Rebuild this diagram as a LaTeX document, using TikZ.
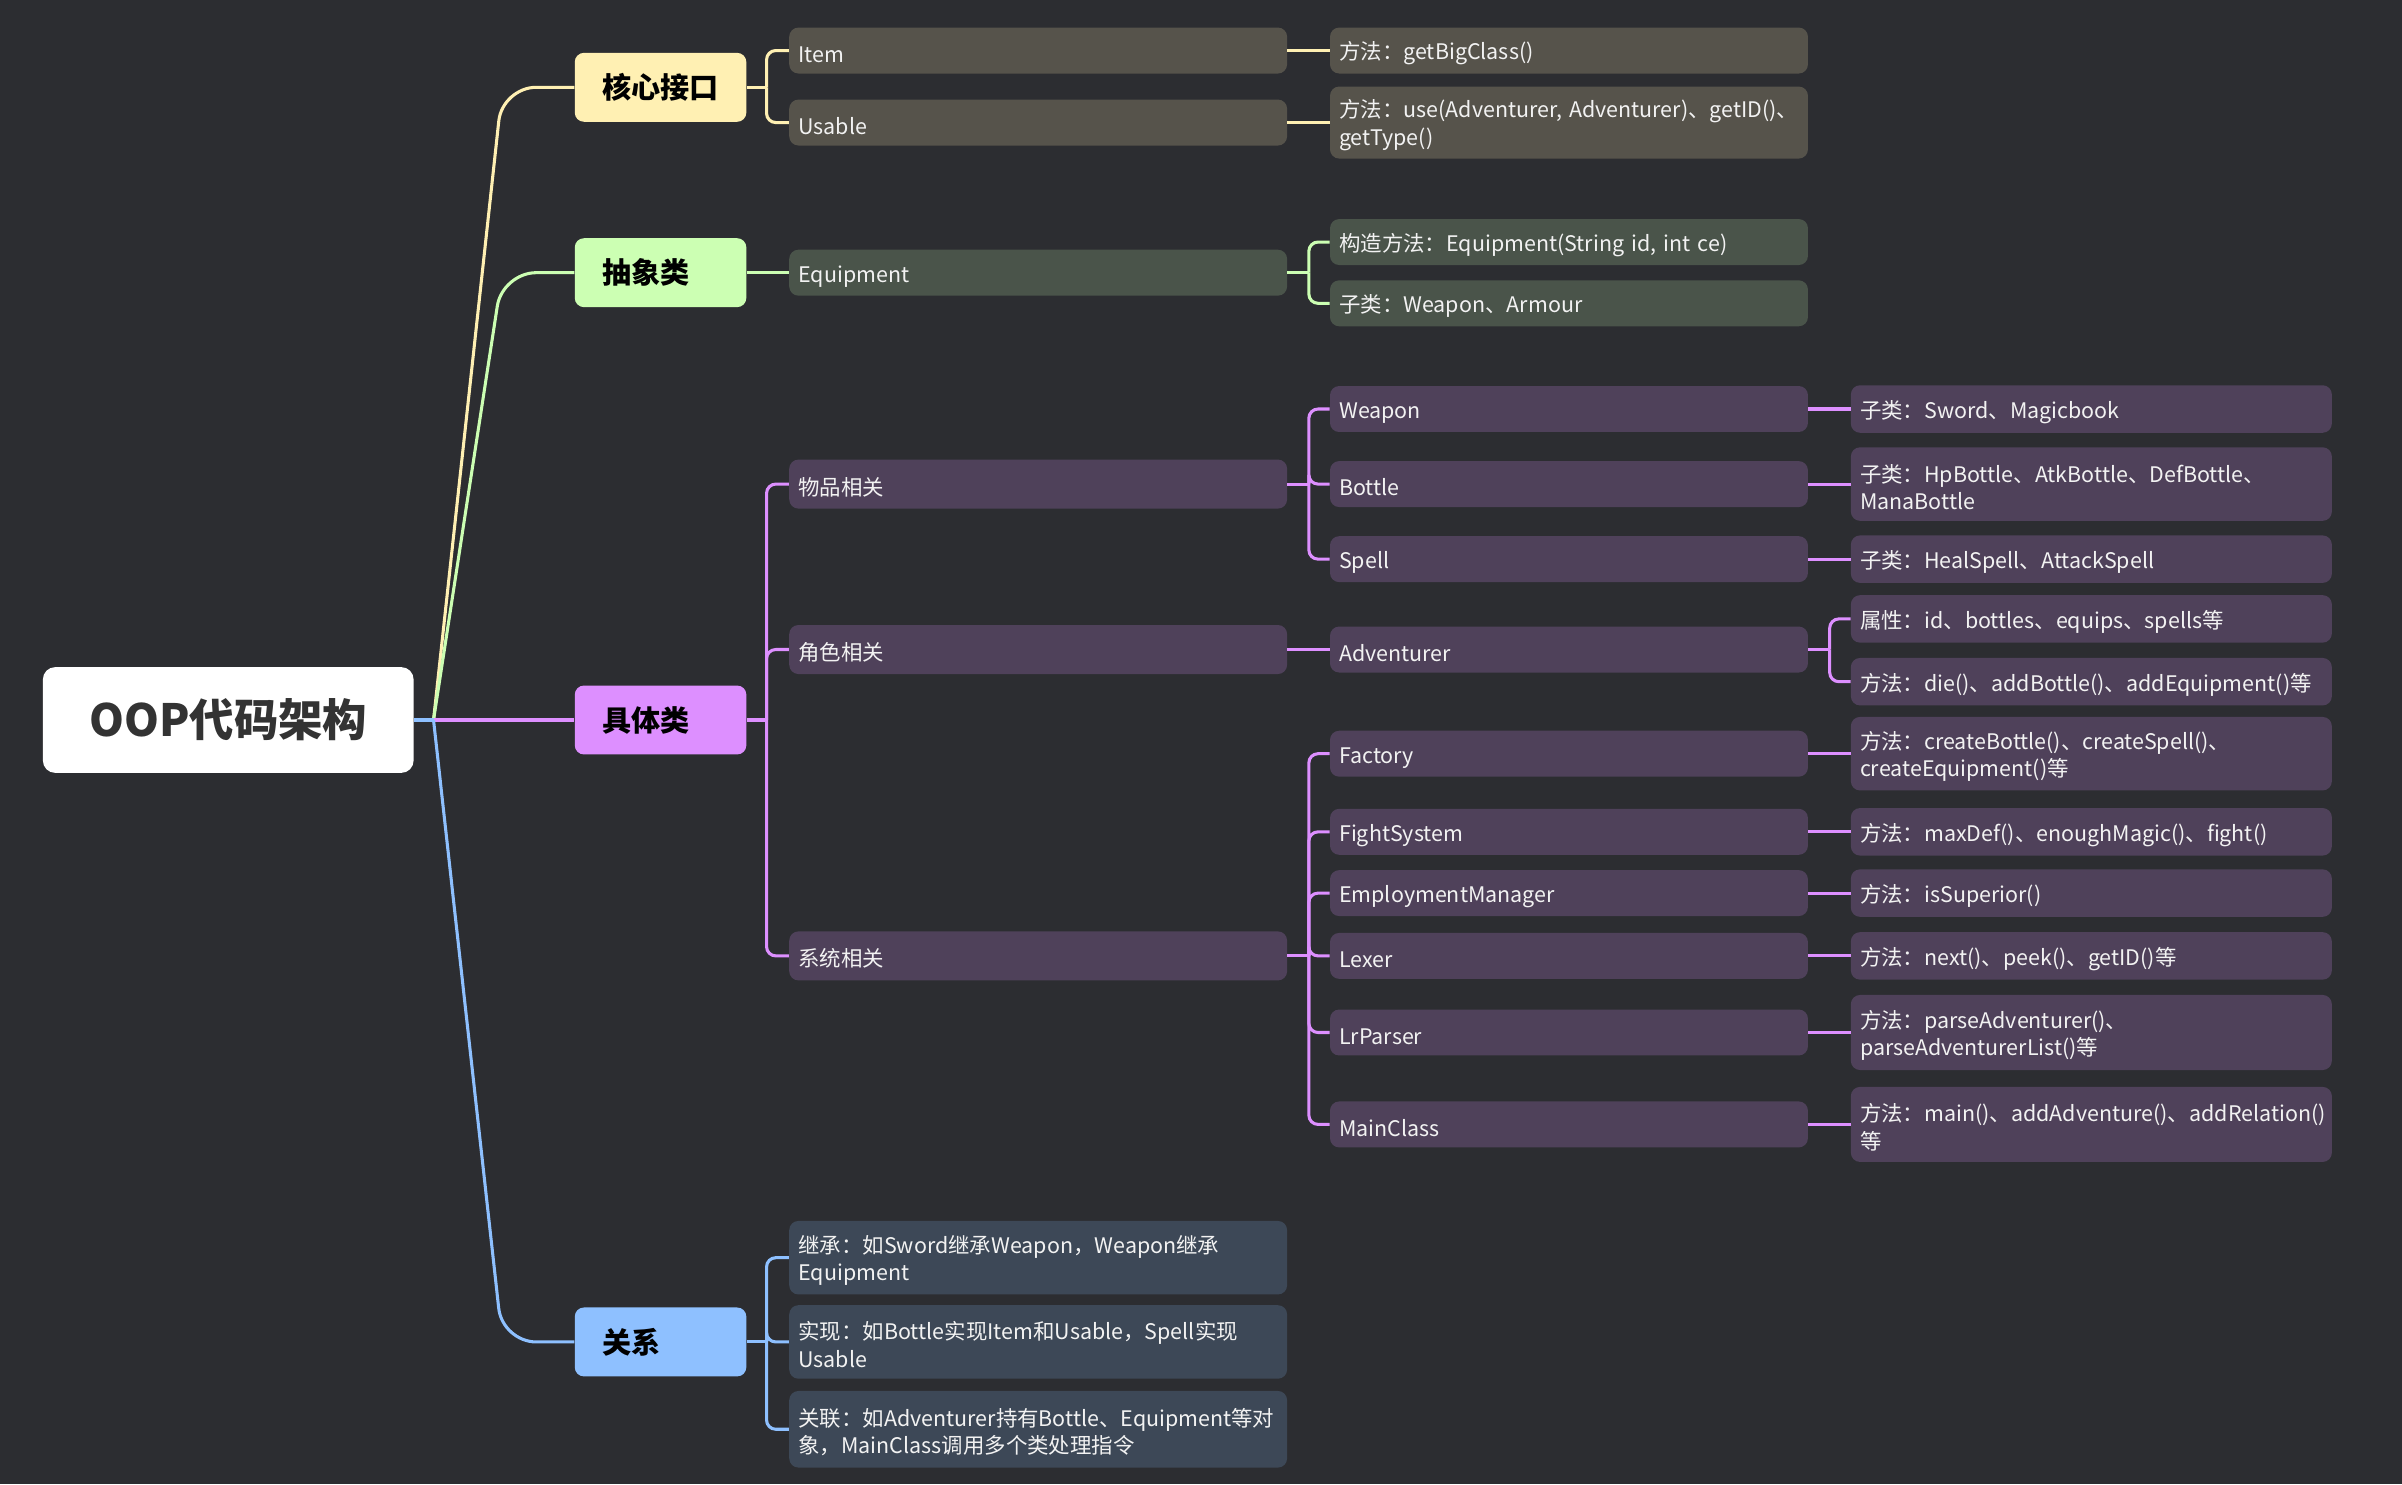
\documentclass[tikz,border=0pt]{standalone}
\usepackage{fontspec}
\setmainfont{Noto Sans CJK SC}
\definecolor{mmback}{RGB}{44,45,49}
\definecolor{mmink}{RGB}{51,51,51}
\definecolor{mmpale}{RGB}{242,242,242}
\definecolor{mmyellow}{RGB}{255,240,179}
\definecolor{mmgreen}{RGB}{204,255,179}
\definecolor{mmviolet}{RGB}{221,143,255}
\definecolor{mmblue}{RGB}{142,192,255}
\definecolor{mmyellowbox}{RGB}{86,83,75}
\definecolor{mmgreenbox}{RGB}{74,84,74}
\definecolor{mmvioletbox}{RGB}{79,65,90}
\definecolor{mmbluebox}{RGB}{61,72,87}

\begin{document}
\begin{tikzpicture}[
        x=1pt, y=-1pt,
        root/.style={fill=white, rounded corners=8pt, minimum width=242, minimum height=69, text=mmink, font=\fontsize{29}{32}\selectfont\bfseries},
        topic/.style={rounded corners=6pt, anchor=west, minimum height=45, text width=76, inner xsep=18, align=left, text=black, font=\fontsize{19}{22}\selectfont\bfseries},
        leaf/.style={rounded corners=6pt, anchor=west, minimum height=30, inner xsep=6, inner ysep=2, align=left, text=mmpale, font=\fontsize{14}{18}\selectfont, execute at begin node={\rule{0pt}{15.5pt}}},
        mid/.style={leaf, text width=313},
        sub/.style={leaf, text width=300},
        tip/.style={leaf, text width=302, minimum height=31},
        wire/.style={line width=2pt, rounded corners=6pt}
      ]
      \fill[mmback] (0,0) rectangle (1568,969);
      \useasboundingbox (0,0) rectangle (1568,969);

      \node[root] (oop) at (149,470) {OOP代码架构};
      \coordinate (hub) at (283,470);

      \node[topic, fill=mmyellow] (core) at (375,57) {核心接口};
      \node[topic, fill=mmgreen] (abstract) at (375,178) {抽象类};
      \node[topic, fill=mmviolet] (concrete) at (375,470) {具体类};
      \node[topic, fill=mmblue] (relation) at (375,876) {关系};

      \node[mid, fill=mmyellowbox] (item) at (515,33) {Item};
      \node[mid, fill=mmyellowbox] (usable) at (515,80) {Usable};
      \node[mid, fill=mmgreenbox] (equip) at (515,178) {Equipment};
      \node[mid, fill=mmvioletbox, minimum height=32] (goods) at (515,316) {物品相关};
      \node[mid, fill=mmvioletbox, minimum height=32] (role) at (515,424) {角色相关};
      \node[mid, fill=mmvioletbox, minimum height=32] (system) at (515,624) {系统相关};
      \node[mid, fill=mmbluebox, minimum height=48] (inherit) at (515,821) {继承：如Sword继承Weapon，Weapon继承\\Equipment};
      \node[mid, fill=mmbluebox, minimum height=48] (realize) at (515,876) {实现：如Bottle实现Item和Usable，Spell实现\\Usable};
      \node[mid, fill=mmbluebox, minimum height=50] (assoc) at (515,933) {关联：如Adventurer持有Bottle、Equipment等对\\象，MainClass调用多个类处理指令};

      \node[sub, fill=mmyellowbox] (getbig) at (868,33) {方法：getBigClass()};
      \node[sub, fill=mmyellowbox, minimum height=47] (usemeth) at (868,80) {方法：use(Adventurer, Adventurer)、getID()、\\getType()};
      \node[sub, fill=mmgreenbox] (ctor) at (868,158) {构造方法：Equipment(String id, int ce)};
      \node[sub, fill=mmgreenbox] (subeq) at (868,198) {子类：Weapon、Armour};
      \node[sub, fill=mmvioletbox] (weapon) at (868,267) {Weapon};
      \node[sub, fill=mmvioletbox] (bottle) at (868,316) {Bottle};
      \node[sub, fill=mmvioletbox] (spell) at (868,365) {Spell};
      \node[sub, fill=mmvioletbox] (adventurer) at (868,424) {Adventurer};
      \node[sub, fill=mmvioletbox] (factory) at (868,492) {Factory};
      \node[sub, fill=mmvioletbox] (fight) at (868,543) {FightSystem};
      \node[sub, fill=mmvioletbox] (employ) at (868,583) {EmploymentManager};
      \node[sub, fill=mmvioletbox] (lexer) at (868,624) {Lexer};
      \node[sub, fill=mmvioletbox] (parser) at (868,674) {LrParser};
      \node[sub, fill=mmvioletbox] (mainclass) at (868,734) {MainClass};

      \node[tip, fill=mmvioletbox] (sword) at (1208,267) {子类：Sword、Magicbook};
      \node[tip, fill=mmvioletbox, minimum height=48] (bottles) at (1208,316) {子类：HpBottle、AtkBottle、DefBottle、\\ManaBottle};
      \node[tip, fill=mmvioletbox] (spells) at (1208,365) {子类：HealSpell、AttackSpell};
      \node[tip, fill=mmvioletbox] (attr) at (1208,404) {属性：id、bottles、equips、spells等};
      \node[tip, fill=mmvioletbox] (advmeth) at (1208,445) {方法：die()、addBottle()、addEquipment()等};
      \node[tip, fill=mmvioletbox, minimum height=48] (factmeth) at (1208,492) {方法：createBottle()、createSpell()、\\createEquipment()等};
      \node[tip, fill=mmvioletbox] (fightmeth) at (1208,543) {方法：maxDef()、enoughMagic()、fight()};
      \node[tip, fill=mmvioletbox] (supmeth) at (1208,583) {方法：isSuperior()};
      \node[tip, fill=mmvioletbox] (lexmeth) at (1208,624) {方法：next()、peek()、getID()等};
      \node[tip, fill=mmvioletbox, minimum height=49] (parsemeth) at (1208,674) {方法：parseAdventurer()、\\parseAdventurerList()等};
      \node[tip, fill=mmvioletbox, minimum height=49] (mainmeth) at (1208,734) {方法：main()、addAdventure()、addRelation()\\等};

      \draw[wire, draw=mmyellow, rounded corners=22pt] (hub) -- ([xshift=-47pt]core.west) -- (core.west);
      \draw[wire, draw=mmgreen, rounded corners=22pt] (hub) -- ([xshift=-47pt]abstract.west) -- (abstract.west);
      \draw[wire, draw=mmviolet] (hub) -- (concrete.west);
      \draw[wire, draw=mmblue, rounded corners=22pt] (hub) -- ([xshift=-47pt]relation.west) -- (relation.west);
      \draw[wire, draw=mmblue] (oop.east) -- (hub);

      \draw[wire, draw=mmyellow] (core.east) -- ++(13,0) coordinate (coresp);
      \foreach \kid in {item,usable}
        \draw[wire, draw=mmyellow] (coresp) |- (\kid.west);
      \draw[wire, draw=mmyellow] (item.east) -- (getbig.west);
      \draw[wire, draw=mmyellow] (usable.east) -- (usemeth.west);

      \draw[wire, draw=mmgreen] (abstract.east) -- (equip.west);
      \draw[wire, draw=mmgreen] (equip.east) -- ++(14,0) coordinate (equipsp);
      \foreach \kid in {ctor,subeq}
        \draw[wire, draw=mmgreen] (equipsp) |- (\kid.west);

      \draw[wire, draw=mmviolet] (concrete.east) -- ++(13,0) coordinate (concsp);
      \foreach \kid in {goods,role,system}
        \draw[wire, draw=mmviolet] (concsp) |- (\kid.west);
      \draw[wire, draw=mmviolet] (goods.east) -- ++(14,0) coordinate (goodssp);
      \foreach \kid in {weapon,bottle,spell}
        \draw[wire, draw=mmviolet] (goodssp) |- (\kid.west);
      \draw[wire, draw=mmviolet] (role.east) -- (adventurer.west);
      \draw[wire, draw=mmviolet] (system.east) -- ++(14,0) coordinate (systemsp);
      \foreach \kid in {factory,fight,employ,lexer,parser,mainclass}
        \draw[wire, draw=mmviolet] (systemsp) |- (\kid.west);
      \draw[wire, draw=mmviolet] (adventurer.east) -- ++(14,0) coordinate (advsp);
      \foreach \kid in {attr,advmeth}
        \draw[wire, draw=mmviolet] (advsp) |- (\kid.west);
      \foreach \a/\b in {weapon/sword,bottle/bottles,spell/spells,factory/factmeth,fight/fightmeth,employ/supmeth,lexer/lexmeth,parser/parsemeth,mainclass/mainmeth}
        \draw[wire, draw=mmviolet] (\a.east) -- (\b.west);

      \draw[wire, draw=mmblue] (relation.east) -- ++(13,0) coordinate (relsp);
      \foreach \kid in {inherit,realize,assoc}
        \draw[wire, draw=mmblue] (relsp) |- (\kid.west);
    \end{tikzpicture}
\end{document}
